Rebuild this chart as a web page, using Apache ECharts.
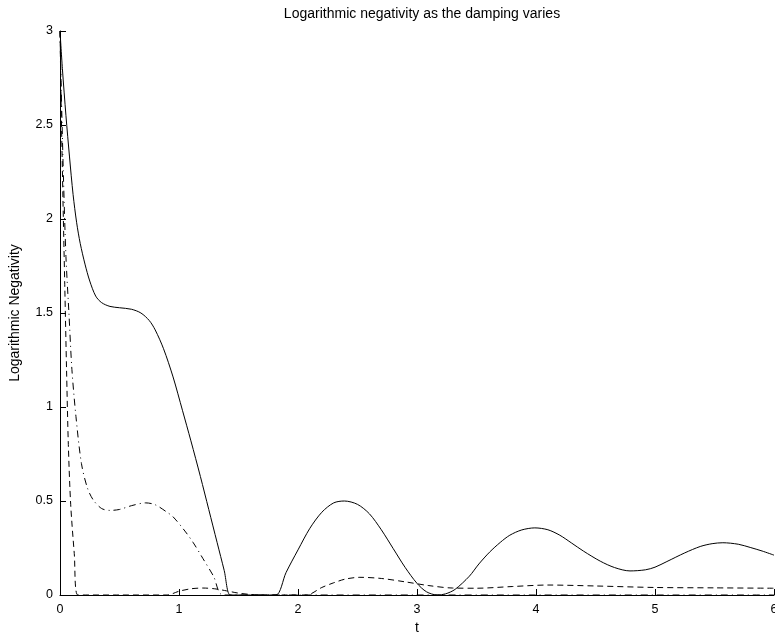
<!DOCTYPE html>
<html>
<head>
<meta charset="utf-8">
<script src="https://cdn.jsdelivr.net/npm/echarts@6/dist/echarts.min.js"></script>
<style>
html,body{margin:0;padding:0;background:#fff;}
#chart{width:775px;height:635px;}
</style>
</head>
<body>
<div id="chart"></div>
<script>
// Solid curve
var tSolid = [0,0.02,0.05,0.08,0.11,0.14,0.17,0.21,0.25,0.3,0.35,0.42,0.5,0.6,0.68,0.75,0.8,0.87,0.95,1.03,1.1,1.18,1.25,1.32,1.38,1.43,1.5,1.6,1.7,1.815,1.9,2.0,2.1,2.2,2.3,2.39,2.5,2.6,2.7,2.8,2.9,3.0,3.08,3.17,3.24,3.32,3.44,3.52,3.61,3.7,3.78,3.88,3.99,4.1,4.2,4.3,4.4,4.54,4.66,4.79,4.92,5.0,5.1,5.25,5.38,5.48,5.57,5.7,5.8,5.9,6.0];
var vSolid = [3,2.8,2.55,2.33,2.13,1.98,1.87,1.76,1.67,1.59,1.555,1.535,1.528,1.52,1.5,1.46,1.41,1.31,1.16,0.98,0.82,0.63,0.455,0.28,0.13,0,0,0,0,0,0.12,0.24,0.355,0.44,0.49,0.5,0.482,0.432,0.347,0.247,0.147,0.062,0.017,0,0.006,0.03,0.1,0.165,0.228,0.28,0.318,0.346,0.357,0.347,0.318,0.276,0.233,0.18,0.146,0.128,0.134,0.148,0.178,0.224,0.258,0.273,0.278,0.27,0.253,0.234,0.212];
// Dashed curve
var tDashed = [0,0.01,0.025,0.04,0.055,0.07,0.09,0.12,0.15,0.5,0.9,1.0,1.1,1.2,1.3,1.4,1.5,1.6,1.7,2.07,2.2,2.3,2.4,2.52,2.7,2.9,3.1,3.3,3.5,3.8,4.1,4.5,5.0,5.5,6.0];
var vDashed = [3,2.6,2.1,1.65,1.2,0.8,0.48,0.22,0,0,0,0.02,0.033,0.037,0.033,0.022,0.01,0.003,0,0,0.04,0.065,0.085,0.094,0.088,0.07,0.05,0.037,0.036,0.045,0.053,0.048,0.04,0.038,0.036];
// Dash-dot curve
var tDashDot = [0,0.01,0.03,0.05,0.075,0.1,0.134,0.18,0.23,0.28,0.35,0.42,0.5,0.6,0.72,0.8,0.9,0.95,1.05,1.12,1.2,1.29,1.37,2,3,4,5,6];
var vDashDot = [3,2.7,2.2,1.8,1.5,1.2,0.95,0.7,0.57,0.505,0.46,0.45,0.455,0.475,0.49,0.48,0.44,0.416,0.34,0.278,0.195,0.1,0,0,0,0,0,0];

var xTicks = [0,1,2,3,4,5,6];
var yTicks = [0,0.5,1,1.5,2,2.5,3];

function pairs(t, v){ return t.map(function(x,i){ return [x, v[i]]; }); }

var FONT = '"Liberation Sans", Arial, Helvetica, sans-serif';
var chart = echarts.init(document.getElementById('chart'), null, {renderer:'canvas'});
var base = {type:'line', showSymbol:false, symbol:'none', smooth:0.3, animation:false, clip:true};
chart.setOption({
  backgroundColor:'#fff',
  animation:false,
  title:{text:'Logarithmic negativity as the damping varies', left:417, top:2, textAlign:'center',
    textStyle:{fontFamily:FONT, fontSize:14, fontWeight:'normal', color:'#000'}},
  grid:{left:60, right:1, top:31, bottom:40, containLabel:false, outerBoundsMode:'none'},
  xAxis:{type:'value', min:xTicks[0], max:xTicks[xTicks.length-1], interval:1,
    name:'t', nameLocation:'middle', nameGap:25,
    nameTextStyle:{fontFamily:FONT, fontSize:14, color:'#000'},
    axisLine:{show:true, lineStyle:{color:'#000', width:1}},
    axisTick:{show:true, inside:true, length:6, lineStyle:{color:'#000'}},
    axisLabel:{fontFamily:FONT, fontSize:12.5, color:'#000', margin:8},
    splitLine:{show:false}},
  yAxis:{type:'value', min:yTicks[0], max:yTicks[yTicks.length-1], interval:0.5,
    name:'Logarithmic Negativity', nameLocation:'middle', nameGap:38,
    nameTextStyle:{fontFamily:FONT, fontSize:14, color:'#000'},
    axisLine:{show:true, lineStyle:{color:'#000', width:1}},
    axisTick:{show:true, inside:true, length:6, lineStyle:{color:'#000'}},
    axisLabel:{fontFamily:FONT, fontSize:12.5, color:'#000', margin:7},
    splitLine:{show:false}},
  series:[
    Object.assign({}, base, {name:'dashed', data:pairs(tDashed, vDashed), lineStyle:{color:'#000', width:1, type:[6,4]}}),
    Object.assign({}, base, {name:'dashdot', data:pairs(tDashDot, vDashDot), lineStyle:{color:'#000', width:1, type:[7,4,1,4]}}),
    Object.assign({}, base, {name:'solid', data:pairs(tSolid, vSolid), lineStyle:{color:'#000', width:1, type:'solid'}})
  ]
});
</script>
</body>
</html>
